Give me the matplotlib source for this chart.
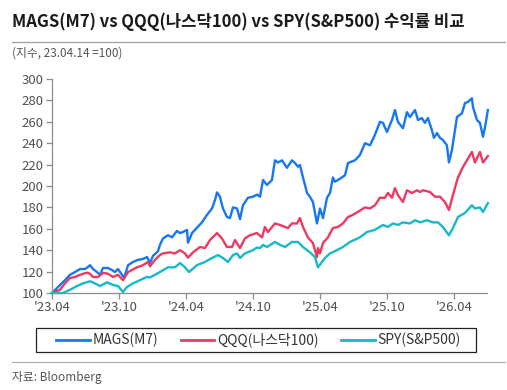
import matplotlib
matplotlib.use("Agg")
import matplotlib.pyplot as plt
from matplotlib.lines import Line2D
from matplotlib.patches import Rectangle

plt.rcParams['font.family'] = ['Noto Sans CJK KR', 'DejaVu Sans']

# months since 2023-04-14
mags_x = [0, 0.54, 1.16, 1.61, 2.06, 2.51, 2.96, 3.22, 3.40, 3.67, 4.03, 4.30, 4.57, 5.01, 5.37, 5.64,
          5.91, 6.27, 6.45, 6.81, 7.25, 7.70, 8.15, 8.51, 8.78, 9.04, 9.49, 9.67, 9.94, 10.39, 10.75,
          11.19, 11.46, 11.73, 12.09, 12.18, 12.54, 12.98, 13.43, 13.88, 14.33, 14.60, 14.78, 15.04,
          15.31, 15.67, 15.94, 16.21, 16.57, 16.84, 17.10, 17.55, 18.00, 18.36, 18.63, 18.90, 19.25,
          19.70, 19.97, 20.24, 20.60, 21.04, 21.49, 21.76, 22.03, 22.21, 22.48, 22.84, 23.10, 23.37,
          23.73, 24.00, 24.27, 24.63, 24.90, 25.16, 25.34, 25.61, 26.24, 26.51, 27.13, 27.58, 28.03,
          28.48, 28.92, 29.37, 29.64, 30.00, 30.45, 30.72, 30.98, 31.43, 31.79, 32.06, 32.51, 32.78,
          33.13, 33.40, 33.67, 34.03, 34.21, 34.48, 34.75, 35.01, 35.37, 35.55, 35.82, 36.27, 36.72,
          36.99, 37.25, 37.61, 37.70, 38.06, 38.33, 38.60, 38.78, 39.04]
mags_y = [100, 105.6, 112, 117, 119.6, 122.4, 122.4, 124.3, 126, 122.4, 119.6, 117, 123.4, 123.4, 121.5, 119.6,
          122.4, 117, 114, 126, 129, 131, 131.8, 133.6, 128, 134.6, 139, 145, 151, 154, 152,
          158, 156, 157, 159, 147, 156, 161, 166, 173, 179, 187, 194, 190,
          179, 171, 170, 180, 179, 169, 182, 189, 190, 192, 190, 205.6, 201,
          205.6, 224, 222, 224, 217, 224, 221.5, 218, 219.6, 208, 193.5, 190, 185,
          165, 179, 170, 189, 193.5, 208, 204, 205.6, 210, 221.5, 224, 229, 240,
          238, 247.7, 260, 259, 250.5, 261.7, 271, 260, 254, 269, 264.5, 271, 261.7,
          263.5, 259, 263.5, 252, 245, 249.5, 245, 243, 238, 222, 233.6, 264.5, 268,
          277.6, 278.5, 282, 274, 261.7, 259, 246, 255, 271]

qqq_x = [0, 0.72, 1.16, 1.61, 2.06, 2.51, 3.13, 3.40, 3.67, 4.12, 4.57, 5.01, 5.46, 5.91, 6.36, 6.81,
         7.61, 8.15, 8.60, 8.78, 9.22, 9.67, 9.94, 10.57, 11.01, 11.46, 11.91, 12.18, 12.63, 13.25,
         13.70, 14.15, 14.78, 15.22, 15.67, 16.12, 16.39, 16.84, 17.28, 17.73, 18.36, 18.81, 19.07,
         19.34, 19.97, 20.42, 20.87, 21.13, 21.49, 21.94, 22.21, 22.48, 22.92, 23.37, 23.73, 23.82,
         24.00, 24.27, 24.72, 25.16, 25.61, 26.06, 26.51, 26.95, 27.58, 28.03, 28.48, 28.92, 29.37,
         29.82, 30.09, 30.45, 30.72, 30.98, 31.43, 31.79, 32.24, 32.69, 32.96, 33.22, 33.85, 34.30,
         34.75, 35.19, 35.55, 35.91, 36.36, 36.81, 37.16, 37.61, 37.88, 38.33, 38.60, 39.04]
qqq_y = [100, 103, 109, 114, 115, 117, 119, 118, 115, 115, 118.7, 118, 115, 117, 112, 119.6,
         124, 126, 129, 125, 131, 135.5, 137, 138, 137, 140, 137, 133, 138, 143,
         142, 149.5, 156, 151, 143, 143, 149.5, 142, 151, 154, 156, 152, 161.7,
         157, 165, 163.6, 161.7, 160.7, 165, 165, 170, 161.7, 152, 146.7, 133.6, 142,
         137, 146.7, 152, 160.7, 161.7, 165, 171, 173, 177, 180, 179, 182, 189,
         189, 193.5, 189, 198, 191.6, 185, 196, 193.5, 196, 194.4, 196, 194.4, 190,
         190, 185, 177.6, 191.6, 208, 217.8, 224, 231.8, 222, 231.8, 222, 228]

spy_x = [0, 0.99, 1.61, 2.24, 2.78, 3.40, 3.85, 4.30, 4.93, 5.46, 5.91, 6.36, 6.72, 7.25, 7.88, 8.51,
         8.78, 9.22, 9.67, 10.39, 11.01, 11.46, 11.91, 12.27, 12.98, 13.70, 14.33, 14.87, 15.31, 15.76,
         16.21, 16.57, 16.84, 17.28, 18.00, 18.36, 18.63, 18.90, 19.25, 19.97, 20.42, 20.87, 21.49,
         22.03, 22.48, 23.10, 23.55, 23.82, 24.18, 24.45, 24.90, 25.52, 26.06, 26.69, 27.58, 28.21,
         28.92, 29.64, 30.09, 30.54, 30.98, 31.43, 32.06, 32.51, 32.96, 33.58, 34.12, 34.57, 35.01,
         35.55, 35.91, 36.36, 36.99, 37.61, 37.88, 38.33, 38.60, 39.04]
spy_y = [100, 100, 103, 106.5, 109, 111, 109, 106.5, 110, 107.5, 106.5, 101, 105.6, 109, 112, 115,
         114.5, 117, 119.6, 124, 124, 128, 124, 119.6, 126, 129, 132.7, 135.5, 132.7, 129,
         135.5, 137, 132.7, 137, 140, 142.5, 142, 145, 143, 147.7, 145, 143, 147.7,
         147.7, 143, 138, 133.6, 124, 129, 132.7, 137, 140, 143, 147.7, 152, 157,
         159, 163.6, 161.7, 165, 163.6, 166, 165, 168, 166, 168, 166, 166, 161.7,
         154, 160.7, 171, 174.8, 182, 179, 180, 175.7, 184]

tick_pos = [0, 6, 12, 18, 24, 30, 36]
tick_labels = ["'23.04", "'23.10", "'24.04", "'24.10", "'25.04", "'25.10", "'26.04"]
y_ticks = list(range(100, 301, 20))

series_names = ["MAGS(M7)", "QQQ(나스닥100)", "SPY(S&P500)"]
colors = ["#1677f0", "#ec3a62", "#17b9c9"]

fig = plt.figure(figsize=(5.07, 3.90), dpi=100)
ax = fig.add_axes([52/507, 97/390, 435/507, 214/390])

for xs, ys, c in zip([mags_x, qqq_x, spy_x], [mags_y, qqq_y, spy_y], colors):
    ax.plot(xs, ys, color=c, lw=1.7, solid_joinstyle='round', clip_on=False)

ax.set_xlim(0, 38.96)
ax.set_ylim(100, 300)
ax.set_yticks(y_ticks)
ax.set_xticks(tick_pos)
ax.set_xticklabels(tick_labels)
for s in ['top', 'right']:
    ax.spines[s].set_visible(False)
for s in ['left', 'bottom']:
    ax.spines[s].set_color('#8c8c8c')
    ax.spines[s].set_linewidth(0.9)
ax.tick_params(axis='both', colors='#8c8c8c', length=4, width=0.9, labelsize=9.5, labelcolor='#505050')
ax.tick_params(axis='x', pad=2)
ax.tick_params(axis='y', pad=2)

# title & subtitle
fig.text(12/507, 1 - 22/390, "MAGS(M7) vs QQQ(나스닥100) vs SPY(S&P500) 수익률 비교",
         fontsize=12, fontweight='bold', color='#1a1a1a', va='center', ha='left')
fig.add_artist(Line2D([12/507, 505/507], [1 - 41.5/390, 1 - 41.5/390], color='#a0a0a0', lw=0.9))
fig.text(12/507, 1 - 53/390, "(지수, 23.04.14 =100)", fontsize=8.5, color='#555555', va='center', ha='left')

# legend box
fig.add_artist(Rectangle((36/507, 38/390), 440/507, 24/390, transform=fig.transFigure,
                         facecolor='white', edgecolor='#222222', lw=0.9))
handles = [Line2D([], [], color=c, lw=2.0) for c in colors]
leg = fig.legend(handles, series_names, ncol=3, loc='center',
                 bbox_to_anchor=(258.5/507, 1 - 340/390), bbox_transform=fig.transFigure,
                 frameon=False, fontsize=10,
                 handlelength=2.4, handletextpad=0.2, columnspacing=1.65,
                 borderpad=0.0, labelcolor='#333333')

fig.add_artist(Line2D([12/507, 505/507], [1 - 362/390, 1 - 362/390], color='#b0b0b0', lw=0.9))
fig.text(12/507, 1 - 378/390, "자료: Bloomberg", fontsize=8.5, color='#555555', va='center', ha='left')

fig.savefig("out.png", dpi=100)
